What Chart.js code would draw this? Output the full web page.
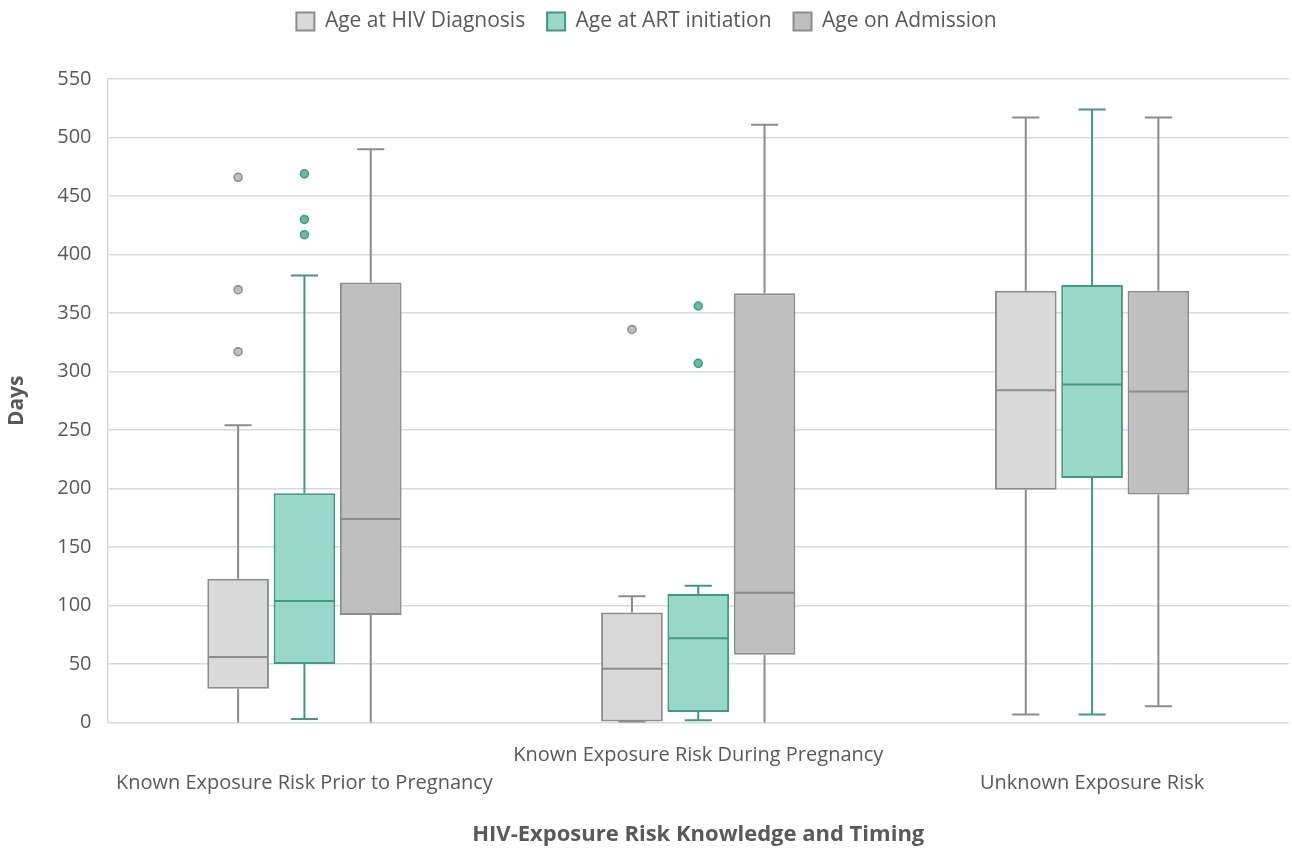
<!DOCTYPE html>
<html>
<head>
<meta charset="utf-8">
<script src="https://cdn.jsdelivr.net/npm/chart.js@4.4.1/dist/chart.umd.min.js"></script>
<style>
  html, body { margin: 0; padding: 0; background: #fff; }
  #wrap { width: 1292px; height: 848px; }
</style>
</head>
<body>
<div id="wrap"><canvas id="box"></canvas></div>
<script>
// categories (x axis) - arrays so labels 1 and 3 drop to a second line
const groups = [
  ['', 'Known Exposure Risk Prior to Pregnancy'],
  'Known Exposure Risk During Pregnancy',
  ['', 'Unknown Exposure Risk']
];
const seriesNames = ['Age at HIV Diagnosis', 'Age at ART initiation', 'Age on Admission'];

// box stats per group: [min, q1, median, q3, max]
const hivDx = [
  [0, 29, 56, 123, 254],
  [1, 1, 46, 94, 108],
  [7, 199, 284, 369, 517]
];
const artInit = [
  [3, 50, 104, 196, 382],
  [2, 9, 72, 110, 117],
  [7, 209, 289, 374, 524]
];
const admission = [
  [0, 92, 174, 376, 490],
  [0, 58, 111, 367, 511],
  [14, 195, 283, 369, 517]
];

// outliers per group
const hivDxOut = [[466, 370, 317], [336], []];
const artInitOut = [[469, 430, 417], [356, 307], []];
const admissionOut = [[], [], []];

const stats = [hivDx, artInit, admission];
const outliers = [hivDxOut, artInitOut, admissionOut];
const fills = ['#d9d9d9', '#99d8c8', '#bfbfbf'];
const lines = ['#8c8c8c', '#3f9b80', '#8c8c8c'];
const dotFills = ['#bfbfbf', '#5fbf9f', '#a6a6a6'];

const textCol = '#595959';
const font = 'Open Sans';

// extra room under the legend
const legendGap = {
  id: 'legendGap',
  beforeInit(chart) {
    const fit = chart.legend.fit;
    chart.legend.fit = function () {
      fit.bind(chart.legend)();
      this.height += 37;
    };
  }
};

// whiskers, medians and outlier dots
const boxExtras = {
  id: 'boxExtras',
  afterDatasetsDraw(chart) {
    const ctx = chart.ctx;
    const y = chart.scales.y;
    chart.data.datasets.forEach((ds, i) => {
      const meta = chart.getDatasetMeta(i);
      meta.data.forEach((bar, j) => {
        const [mn, q1, md, q3, mx] = stats[i][j];
        const cx = bar.x;
        const half = bar.width / 2;
        const cap = bar.width * 0.22;
        ctx.save();
        ctx.strokeStyle = lines[i];
        ctx.lineWidth = 2;
        ctx.beginPath();
        // upper whisker
        ctx.moveTo(cx, y.getPixelForValue(q3));
        ctx.lineTo(cx, y.getPixelForValue(mx));
        ctx.moveTo(cx - cap, y.getPixelForValue(mx));
        ctx.lineTo(cx + cap, y.getPixelForValue(mx));
        // lower whisker
        ctx.moveTo(cx, y.getPixelForValue(q1));
        ctx.lineTo(cx, y.getPixelForValue(mn));
        if (mn > 0) {
          ctx.moveTo(cx - cap, y.getPixelForValue(mn));
          ctx.lineTo(cx + cap, y.getPixelForValue(mn));
        }
        // median
        ctx.moveTo(cx - half + 1, y.getPixelForValue(md));
        ctx.lineTo(cx + half - 1, y.getPixelForValue(md));
        ctx.stroke();
        // outliers
        ctx.lineWidth = 1.5;
        ctx.fillStyle = dotFills[i];
        outliers[i][j].forEach(v => {
          ctx.beginPath();
          ctx.arc(cx, y.getPixelForValue(v), 4, 0, Math.PI * 2);
          ctx.fill();
          ctx.stroke();
        });
        ctx.restore();
      });
    });
  }
};

new Chart(document.getElementById('box'), {
  type: 'bar',
  data: {
    labels: groups,
    datasets: seriesNames.map((name, i) => ({
      label: name,
      data: stats[i].map(s => [s[1], s[3]]),
      backgroundColor: fills[i],
      borderColor: lines[i],
      borderWidth: 2,
      borderSkipped: false,
      categoryPercentage: 0.505,
      barPercentage: 0.93
    }))
  },
  options: {
    responsive: true,
    maintainAspectRatio: false,
    animation: false,
    layout: { padding: { left: 4, right: 3, top: 0, bottom: 0 } },
    plugins: {
      legend: {
        position: 'top',
        labels: {
          boxWidth: 18,
          boxHeight: 18,
          padding: 11,
          color: textCol,
          font: { family: font, size: 21 },
          generateLabels(chart) {
            const items = Chart.defaults.plugins.legend.labels.generateLabels(chart);
            // a little more room between entries
            items.forEach((it, k) => { if (k < items.length - 1) it.text += '  '; });
            return items;
          }
        }
      },
      tooltip: { enabled: false }
    },
    scales: {
      x: {
        grid: { display: false, drawTicks: false },
        border: { display: false },
        ticks: {
          color: textCol,
          padding: 19,
          maxRotation: 0,
          autoSkip: false,
          font: { family: font, size: 20, lineHeight: 1.4 }
        },
        title: {
          display: true,
          text: 'HIV-Exposure Risk Knowledge and Timing',
          color: textCol,
          padding: { top: 5, bottom: 0 },
          font: { family: font, size: 22, weight: 'bold' }
        }
      },
      y: {
        min: 0,
        max: 550,
        ticks: {
          stepSize: 50,
          color: textCol,
          padding: 16,
          font: { family: font, size: 20 }
        },
        grid: { color: '#d9d9d9', lineWidth: 1.5, drawTicks: false },
        border: { color: '#d9d9d9', width: 1.5 },
        title: {
          display: true,
          text: 'Days',
          color: textCol,
          padding: { top: 0, bottom: 12 },
          font: { family: font, size: 21, weight: 'bold' }
        }
      }
    }
  },
  plugins: [legendGap, boxExtras]
});
</script>
</body>
</html>
